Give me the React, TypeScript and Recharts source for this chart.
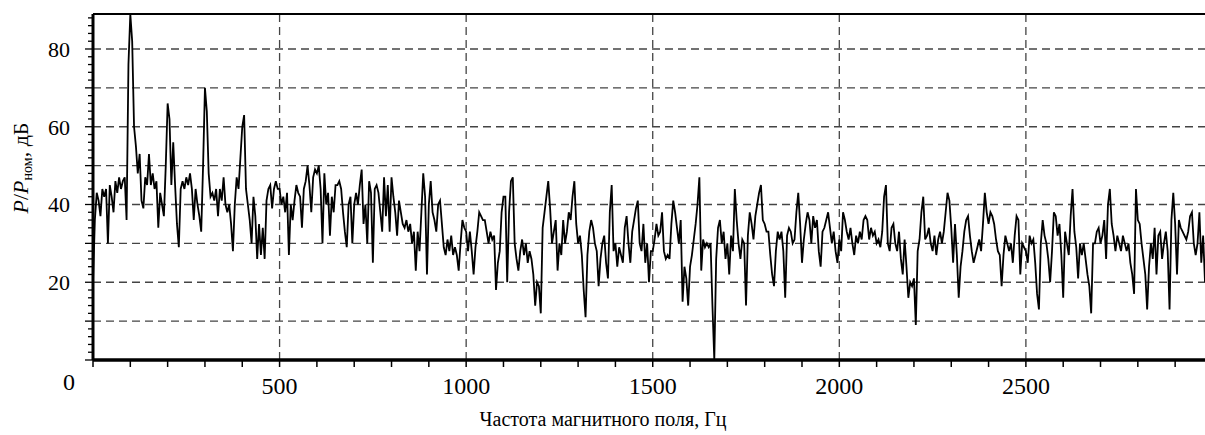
import React from 'react';
import { LineChart, Line, XAxis, YAxis, CartesianGrid, ReferenceLine } from 'recharts';

// Spectrum sampled every 5 Hz, values in dB (P/Pnom)
const STEP_HZ = 5;

const seg0to500 = [
  20, 36, 43, 41, 37, 44, 42, 44, 30, 45,
  42, 38, 46, 43, 47, 44, 46, 47, 36, 76,
  89, 82, 60, 55, 48, 53, 41, 39, 47, 45,
  53, 45, 48, 44, 46, 34, 43, 40, 37, 50,
  66, 62, 45, 56, 45, 35, 29, 44, 46, 44,
  47, 45, 48, 44, 36, 44, 40, 37, 33, 50,
  70, 64, 48, 42, 43, 41, 44, 37, 44, 41,
  47, 40, 38, 40, 35, 28, 40, 47, 44, 52,
  60, 63, 44, 40, 36, 30, 42, 37, 26, 35,
  27, 34, 26, 41, 44, 45, 39, 44, 46, 44,
];

const seg500to1000 = [
  44, 40, 42, 38, 43, 27, 40, 36, 41, 45,
  43, 42, 34, 44, 46, 50, 45, 38, 47, 49,
  48, 50, 44, 30, 48, 40, 43, 32, 42, 38,
  45, 45, 46, 44, 38, 33, 29, 40, 42, 30,
  40, 43, 40, 45, 49, 35, 40, 30, 46, 43,
  25, 44, 45, 43, 38, 33, 47, 37, 45, 33,
  47, 42, 38, 32, 41, 38, 35, 34, 36, 33,
  35, 30, 33, 23, 33, 28, 38, 48, 42, 22,
  40, 46, 38, 36, 33, 40, 41, 35, 29, 27,
  31, 28, 32, 27, 29, 27, 23, 30, 36, 34,
];

const seg1000to1500 = [
  33, 28, 33, 28, 22, 29, 33, 38, 37, 36,
  36, 33, 30, 33, 31, 32, 18, 25, 28, 38,
  42, 42, 20, 38, 46, 47, 30, 26, 23, 28,
  31, 27, 30, 25, 28, 26, 22, 14, 20, 19,
  12, 34, 38, 42, 46, 39, 30, 33, 36, 23,
  30, 27, 36, 30, 33, 38, 36, 42, 46, 35,
  30, 32, 27, 18, 11, 27, 33, 36, 34, 30,
  28, 19, 26, 30, 32, 25, 21, 38, 45, 28,
  30, 24, 29, 27, 25, 34, 37, 30, 25, 33,
  36, 39, 41, 30, 28, 35, 25, 30, 20, 28,
];

const seg1500to2000 = [
  28, 31, 35, 32, 33, 38, 28, 26, 27, 26,
  35, 41, 38, 34, 30, 36, 15, 24, 21, 14,
  24, 27, 31, 35, 40, 47, 23, 31, 29, 30,
  29, 30, 14, 0, 26, 34, 36, 30, 33, 26,
  30, 22, 32, 28, 44, 36, 30, 26, 31, 30,
  14, 32, 38, 35, 31, 37, 40, 43, 45, 36,
  35, 33, 33, 27, 22, 19, 28, 33, 31, 33,
  28, 16, 32, 34, 33, 30, 31, 38, 43, 35,
  25, 31, 35, 38, 36, 30, 37, 34, 36, 28,
  24, 33, 34, 36, 38, 34, 30, 33, 28, 25,
];

const seg2000to2500 = [
  31, 28, 38, 36, 33, 31, 34, 30, 27, 32,
  30, 33, 31, 36, 37, 36, 31, 34, 32, 33,
  30, 31, 29, 33, 42, 45, 30, 28, 34, 35,
  30, 28, 33, 26, 22, 31, 24, 16, 20, 19,
  21, 9, 28, 31, 38, 42, 31, 32, 34, 30,
  28, 32, 27, 31, 33, 30, 33, 38, 43, 41,
  34, 25, 35, 27, 16, 24, 28, 33, 36, 37,
  32, 28, 25, 27, 29, 31, 28, 35, 43, 38,
  35, 38, 37, 35, 31, 28, 27, 19, 27, 32,
  30, 28, 30, 25, 32, 37, 36, 22, 30, 29,
];

const seg2500to2980 = [
  28, 25, 32, 30, 31, 25, 17, 13, 30, 36,
  32, 30, 26, 20, 28, 38, 37, 32, 35, 27,
  16, 33, 30, 27, 37, 44, 33, 29, 21, 30,
  27, 30, 26, 22, 19, 12, 30, 30, 33, 34,
  30, 32, 36, 26, 40, 44, 35, 32, 28, 32,
  30, 28, 32, 30, 28, 30, 25, 22, 17, 44,
  36, 35, 30, 26, 22, 13, 24, 30, 26, 34,
  22, 32, 33, 26, 30, 33, 28, 13, 36, 43,
  35, 22, 36, 34, 33, 32, 31, 33, 37, 38,
  30, 27, 30, 38, 25, 32, 20,
];

const xLabelTicks = [0, 500, 1000, 1500, 2000, 2500];
const yLabelTicks = [20, 40, 60, 80];
const yGridValues = [10, 20, 30, 40, 50, 60, 70, 80];
const xGridValues = [500, 1000, 1500, 2000, 2500];
const X_MAX = 2980;
const Y_MAX = 89;

const xTitle = 'Частота магнитного поля, Гц';

const allValues = [
  ...seg0to500,
  ...seg500to1000,
  ...seg1000to1500,
  ...seg1500to2000,
  ...seg2000to2500,
  ...seg2500to2980,
];
const data = allValues.map((v, i) => ({ f: i * STEP_HZ, p: v }));

const xMinorTicks: number[] = [];
for (let t = 0; t < X_MAX; t += 100) xMinorTicks.push(t);
const yMinorTicks: number[] = [];
for (let t = 0; t <= 88; t += 2) yMinorTicks.push(t);

const FONT = "'Liberation Serif', 'Times New Roman', Times, serif";
const serif = { fontFamily: FONT };

const XTick = (props: any) => {
  const { x, y, payload } = props;
  const v = payload.value as number;
  const labelled = xLabelTicks.includes(v);
  return (
    <g>
      <line x1={x} y1={y} x2={x} y2={y + 7} stroke="#000" strokeWidth={1.5} />
      {labelled && v !== 0 && (
        <text x={x} y={y + 34} textAnchor="middle" fontSize={24} style={serif} fill="#000">
          {v}
        </text>
      )}
      {v === 0 && (
        <text x={x - 24} y={y + 30} textAnchor="middle" fontSize={24} style={serif} fill="#000">
          0
        </text>
      )}
    </g>
  );
};

const YTick = (props: any) => {
  const { x, y, payload } = props;
  const v = payload.value as number;
  const major = v % 10 === 0;
  const labelled = yLabelTicks.includes(v);
  return (
    <g>
      <line x1={x} y1={y} x2={x - (major ? 8 : 5)} y2={y} stroke="#000" strokeWidth={1.3} />
      {labelled && (
        <text x={x - 23} y={y} dy="0.36em" textAnchor="end" fontSize={22} style={serif} fill="#000">
          {v}
        </text>
      )}
    </g>
  );
};

export default function App() {
  return (
    <div style={{ position: 'absolute', left: 0, top: 0, width: 1205, height: 435, background: '#fff', fontFamily: FONT }}>
      <LineChart
        width={1205}
        height={435}
        data={data}
        margin={{ top: 14, right: 0, bottom: 0, left: 0 }}
        style={serif}
      >
        <CartesianGrid
          stroke="#444"
          strokeWidth={1.3}
          strokeDasharray="8 5"
          horizontalValues={yGridValues}
          verticalValues={xGridValues}
        />
        <XAxis
          dataKey="f"
          type="number"
          domain={[0, X_MAX]}
          ticks={xMinorTicks}
          interval={0}
          height={75}
          tickSize={0}
          tickMargin={0}
          tickLine={false}
          tick={<XTick />}
          axisLine={{ stroke: '#000', strokeWidth: 3.5 }}
          allowDataOverflow
        />
        <YAxis
          type="number"
          domain={[0, Y_MAX]}
          ticks={yMinorTicks}
          interval={0}
          width={93}
          tickSize={0}
          tickMargin={0}
          tickLine={false}
          tick={<YTick />}
          axisLine={{ stroke: '#000', strokeWidth: 3 }}
          allowDataOverflow
        />
        <ReferenceLine y={Y_MAX} stroke="#000" strokeWidth={2} />
        <Line
          type="linear"
          dataKey="p"
          stroke="#000"
          strokeWidth={1.8}
          dot={false}
          isAnimationActive={false}
        />
      </LineChart>
      <svg
        width={1205}
        height={435}
        style={{ position: 'absolute', left: 0, top: 0, pointerEvents: 'none', fontFamily: FONT }}
      >
        <text
          transform="translate(28,168) rotate(-90)"
          textAnchor="middle"
          fontSize={22}
          style={serif}
          fill="#000"
        >
          <tspan fontStyle="italic">P</tspan>
          <tspan>/</tspan>
          <tspan fontStyle="italic">P</tspan>
          <tspan fontSize={14} dy={4}>ном</tspan>
          <tspan dy={-4}>, дБ</tspan>
        </text>
        <text x={603} y={426} textAnchor="middle" fontSize={20} style={serif} fill="#000">
          {xTitle}
        </text>
      </svg>
    </div>
  );
}
